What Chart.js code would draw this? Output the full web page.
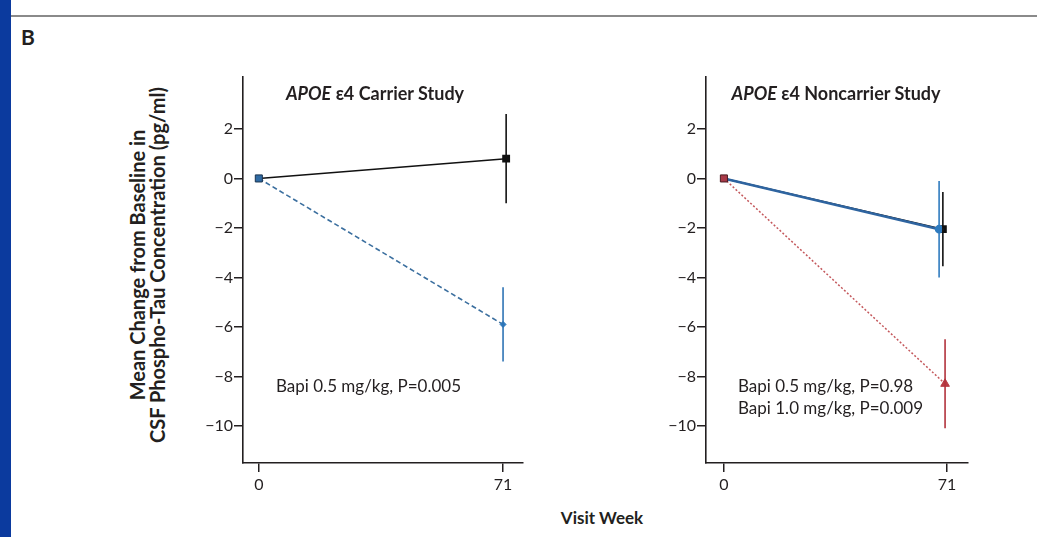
<!DOCTYPE html>
<html lang="en">
<head>
<meta charset="UTF-8">
<title>CSF Phospho-Tau Change from Baseline</title>
<script src="https://cdn.jsdelivr.net/npm/chart.js@4"></script>
<style>
    body {
        margin: 0;
        width: 1037px;
        height: 537px;
        position: relative;
        overflow: hidden;
        background: #fff;
        font-family: Lato, "Open Sans", sans-serif;
        color: #231f20;
    }
    .side { position: absolute; left: 0; top: 0; width: 11px; height: 537px; background: #0b3a9e; }
    .rule { position: absolute; left: 11px; right: 0; top: 15px; height: 2px; background: #8a8a8a; }
    .label-b { position: absolute; left: 21px; top: 24px; font-weight: bold; font-size: 21px; }
    .panel { position: absolute; }
    .title {
        position: absolute;
        font-weight: bold;
        font-size: 18px;
        white-space: nowrap;
        transform: translate(-50%, -50%);
    }
    .note { position: absolute; font-size: 17px; line-height: 22px; white-space: nowrap; }
    .ytitle {
        position: absolute;
        left: 147px;
        top: 265px;
        transform: translate(-50%, -50%) rotate(-90deg);
        font-weight: bold;
        font-size: 20px;
        line-height: 20px;
        text-align: center;
        white-space: nowrap;
    }
    .xtitle {
        position: absolute;
        left: 602px;
        top: 517px;
        transform: translate(-50%, -50%);
        font-weight: bold;
        font-size: 17px;
    }
</style>
</head>
<body>
    <div class="side"></div>
    <div class="rule"></div>
    <div class="label-b">B</div>

    <div class="ytitle">Mean Change from Baseline in<br>CSF Phospho-Tau Concentration (pg/ml)</div>
    <div class="xtitle">Visit Week</div>

    <div class="panel" style="left:190px; top:60px;">
        <canvas id="carrierChart" width="350" height="430"></canvas>
    </div>
    <div class="panel" style="left:650px; top:60px;">
        <canvas id="noncarrierChart" width="340" height="430"></canvas>
    </div>

    <div class="title" style="left:375px; top:93px;"><i>APOE</i> ε4 Carrier Study</div>
    <div class="title" style="left:836px; top:93px;"><i>APOE</i> ε4 Noncarrier Study</div>

    <div class="note" style="left:276px; top:375px;">Bapi 0.5 mg/kg, P=0.005</div>
    <div class="note" style="left:738px; top:375px;">Bapi 0.5 mg/kg, P=0.98<br>Bapi 1.0 mg/kg, P=0.009</div>

    <script>
        const weeks = [0, 71];
        const xTicks = [0, 71];
        const yTicks = [-10, -8, -6, -4, -2, 0, 2];

        // carrier study
        const carrierPlacebo = [0, 0.8];
        const carrierPlaceboErr = [0, 1.8];
        const carrierBapi05 = [0, -5.9];
        const carrierBapi05Err = [0, 1.5];

        // noncarrier study
        const noncarrierPlacebo = [0, -2.05];
        const noncarrierPlaceboErr = [0, 1.5];
        const noncarrierBapi05 = [0, -2.05];
        const noncarrierBapi05Err = [0, 1.95];
        const noncarrierBapi10 = [0, -8.3];
        const noncarrierBapi10Err = [0, 1.8];

        const ink = '#231f20';

        // small horizontal dodge at week 71 so the overlapping bars stay visible
        function points(values, dodge) {
            return weeks.map((w, i) => ({ x: w + (i > 0 ? dodge : 0), y: values[i] }));
        }

        const errorBars = {
            id: 'errorBars',
            afterDatasetsDraw(chart) {
                const ctx = chart.ctx;
                const y = chart.scales.y;
                ctx.save();
                // last dataset first so the top series stays on top
                for (let d = chart.data.datasets.length - 1; d >= 0; d--) {
                    const ds = chart.data.datasets[d];
                    const meta = chart.getDatasetMeta(d);
                    ds.errors.forEach((e, i) => {
                        if (!e) return;
                        const px = meta.data[i].x;
                        const v = ds.data[i].y;
                        ctx.beginPath();
                        ctx.strokeStyle = ds.errorColor;
                        ctx.lineWidth = 1.6;
                        ctx.moveTo(px, y.getPixelForValue(v + e));
                        ctx.lineTo(px, y.getPixelForValue(v - e));
                        ctx.stroke();
                    });
                }
                ctx.restore();
            }
        };

        function makePanel(id, datasets, xMin, xMax, padLeft, padRight) {
            return new Chart(document.getElementById(id), {
                type: 'line',
                data: { datasets: datasets },
                plugins: [errorBars],
                options: {
                    responsive: false,
                    animation: false,
                    layout: { padding: { left: padLeft, right: padRight, top: 17, bottom: 0 } },
                    plugins: { legend: { display: false }, tooltip: { enabled: false } },
                    scales: {
                        x: {
                            type: 'linear',
                            min: xMin,
                            max: xMax,
                            afterBuildTicks: s => { s.ticks = xTicks.map(v => ({ value: v })); },
                            afterFit: s => { s.height = 27; },
                            grid: { drawOnChartArea: false, tickLength: 9, color: ink, lineWidth: 1.5 },
                            border: { display: true, color: ink, width: 1.6 },
                            ticks: { autoSkip: false, maxRotation: 0, color: ink, padding: 3, font: { family: 'Lato', size: 16 } }
                        },
                        y: {
                            min: -11.5,
                            max: 4.1,
                            afterBuildTicks: s => { s.ticks = yTicks.map(v => ({ value: v })); },
                            afterFit: s => { s.width = 40; },
                            grid: { drawOnChartArea: false, tickLength: 9, color: ink, lineWidth: 1.5 },
                            border: { display: true, color: ink, width: 1.6 },
                            ticks: {
                                color: ink,
                                padding: 1,
                                font: { family: 'Lato', size: 16 },
                                callback: v => v < 0 ? '\u2212' + Math.abs(v) : String(v)
                            }
                        }
                    }
                }
            });
        }

        makePanel('carrierChart', [
            {
                label: 'Bapi 0.5 mg/kg',
                data: points(carrierBapi05, 0),
                errors: carrierBapi05Err,
                errorColor: '#2f74b5',
                borderColor: '#3b6f9f',
                borderWidth: 1.6,
                borderDash: [5, 3],
                pointStyle: ['rect', 'rectRot'],
                pointRadius: [5, 3],
                pointBackgroundColor: ['#2f6aa3', '#2f7bbf'],
                pointBorderColor: ['#1c3550', '#2f7bbf'],
                pointBorderWidth: 1
            },
            {
                label: 'Placebo',
                data: points(carrierPlacebo, 0.9),
                errors: carrierPlaceboErr,
                errorColor: '#111',
                borderColor: '#111',
                borderWidth: 1.5,
                pointStyle: 'rect',
                pointRadius: [0, 4.5],
                pointBackgroundColor: '#111',
                pointBorderColor: '#111'
            }
        ], -4.6, 76.8, 13, 17);

        makePanel('noncarrierChart', [
            {
                label: 'Bapi 1.0 mg/kg',
                data: points(noncarrierBapi10, -0.6),
                errors: noncarrierBapi10Err,
                errorColor: '#b2323c',
                borderColor: '#c4585c',
                borderWidth: 1.5,
                borderDash: [2, 2],
                pointStyle: ['rect', 'triangle'],
                pointRadius: [5, 5],
                pointBackgroundColor: ['#a83a48', '#b83a42'],
                pointBorderColor: ['#4a1c22', '#b83a42'],
                pointBorderWidth: 1
            },
            {
                label: 'Bapi 0.5 mg/kg',
                data: points(noncarrierBapi05, -2.5),
                errors: noncarrierBapi05Err,
                errorColor: '#2f7bbf',
                borderColor: '#2e64a0',
                borderWidth: 2.6,
                pointStyle: 'circle',
                pointRadius: [0, 3],
                pointBackgroundColor: '#2f7bbf',
                pointBorderColor: '#2f7bbf'
            },
            {
                label: 'Placebo',
                data: points(noncarrierPlacebo, -1.3),
                errors: noncarrierPlaceboErr,
                errorColor: '#111',
                borderColor: '#111',
                borderWidth: 1.5,
                pointStyle: 'rect',
                pointRadius: [0, 4.5],
                pointBackgroundColor: '#111',
                pointBorderColor: '#111'
            }
        ], -5.7, 77.7, 16, 22);
    </script>
</body>
</html>
